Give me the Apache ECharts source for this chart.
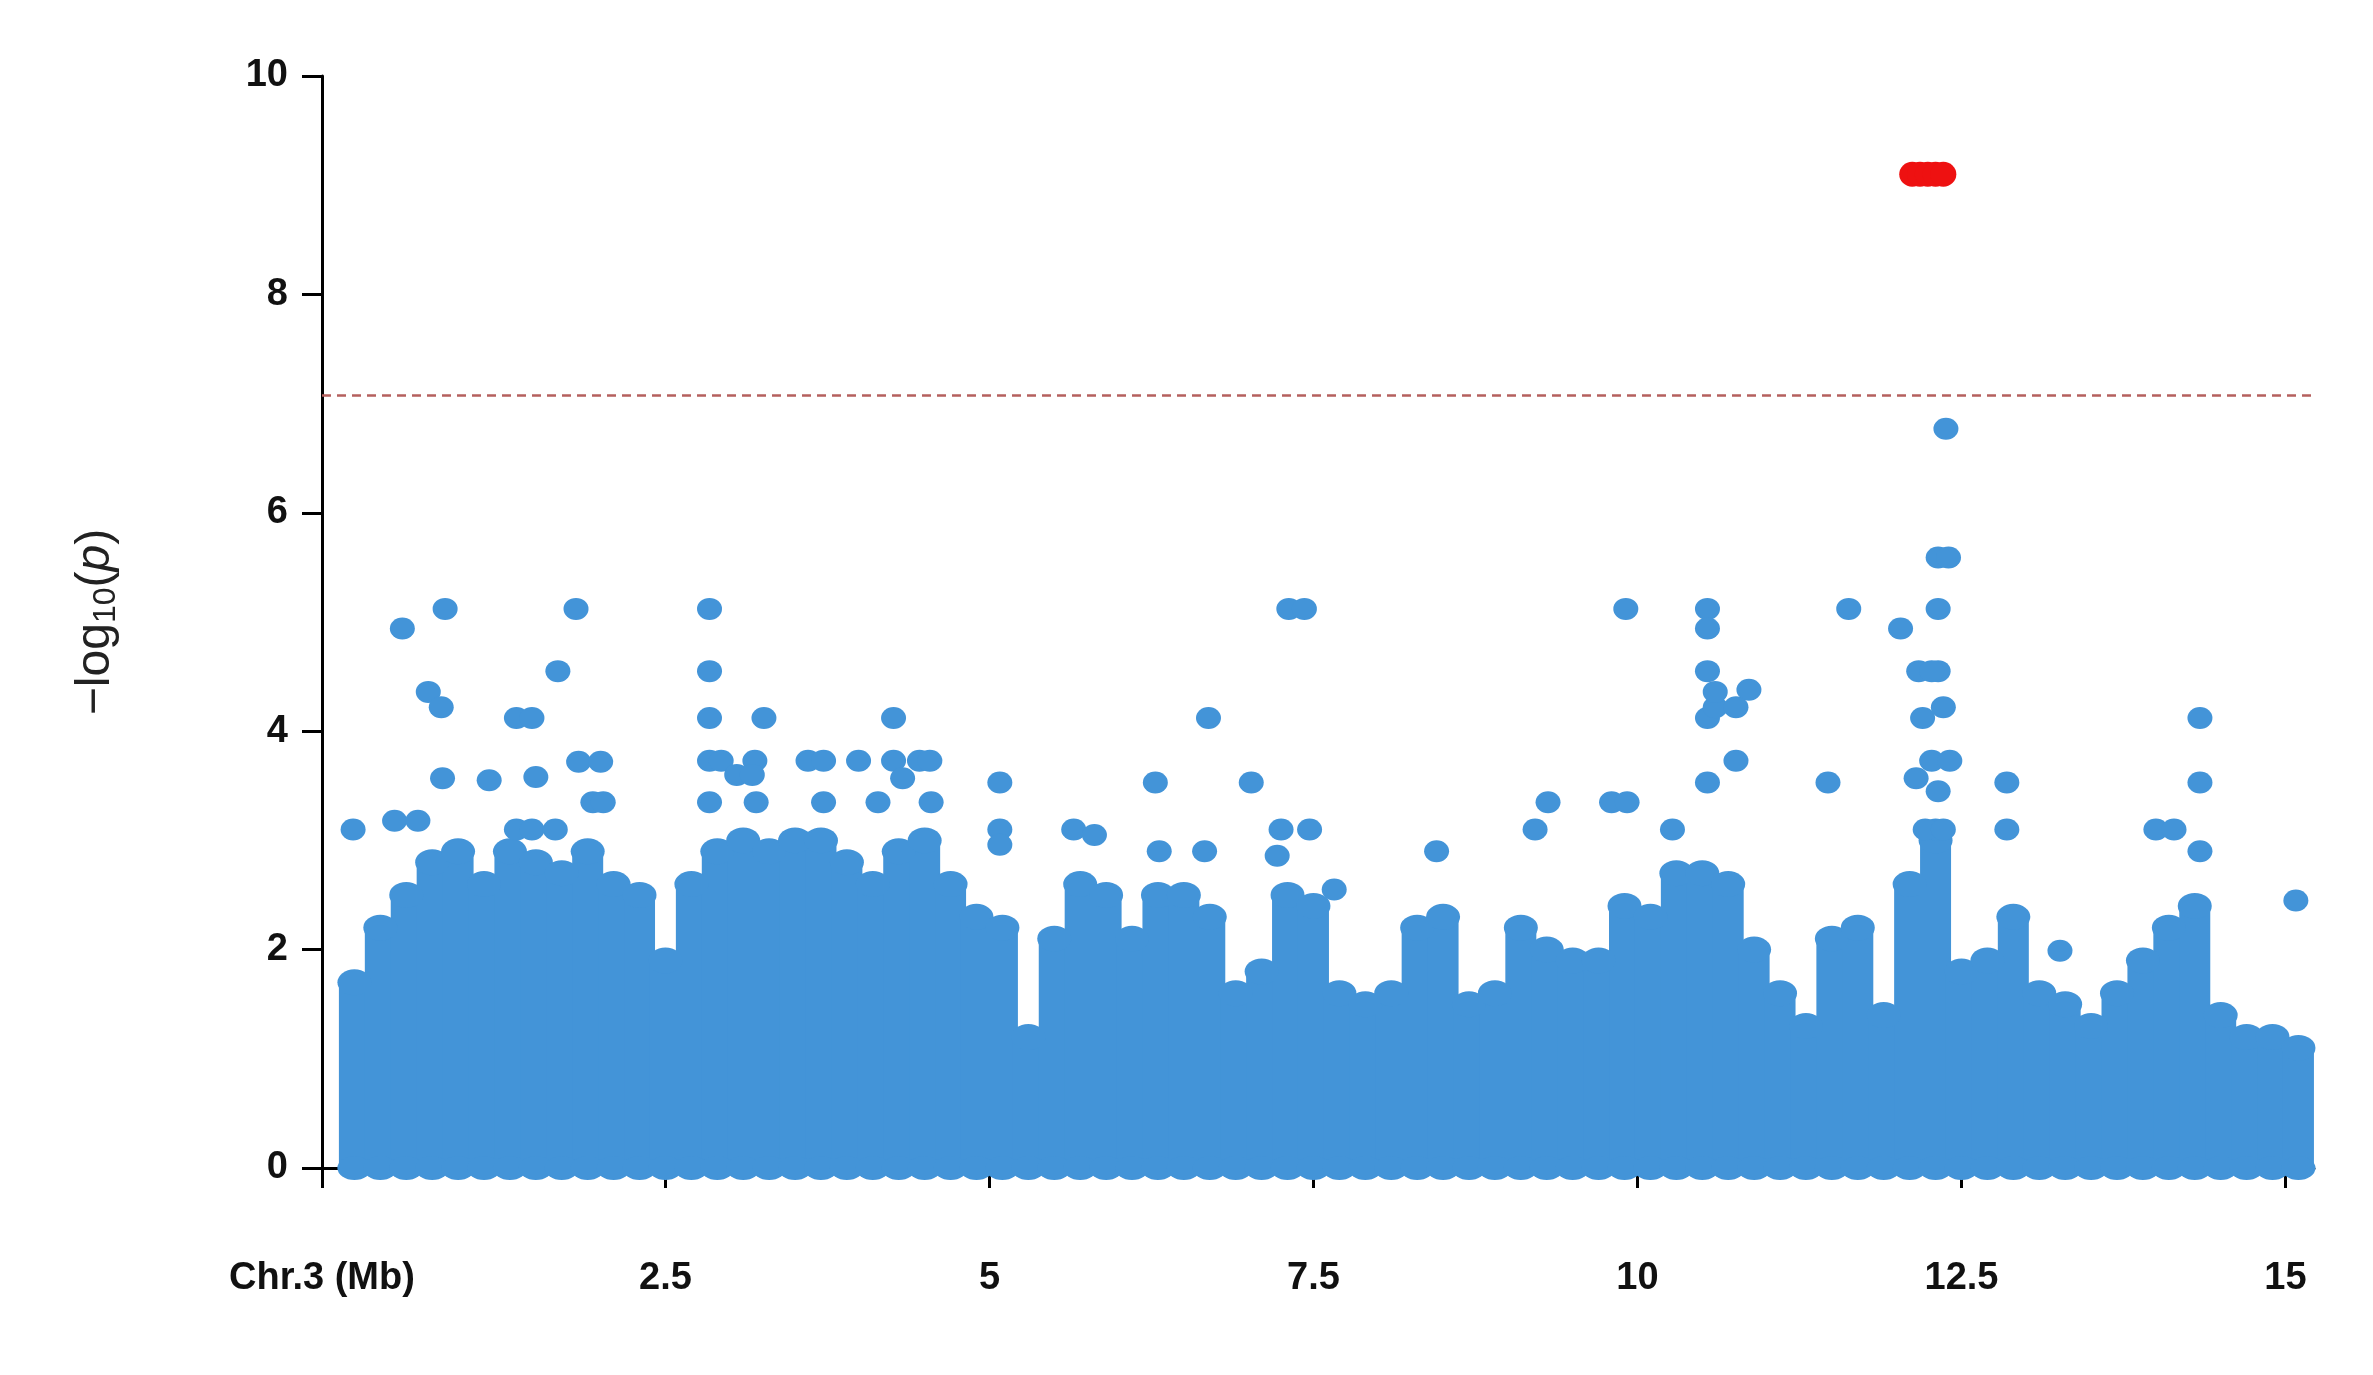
<!DOCTYPE html>
<html>
<head>
<meta charset="utf-8">
<script src="https://cdn.jsdelivr.net/npm/echarts@6/dist/echarts.min.js"></script>
<style>html,body{margin:0;padding:0;background:#fff}#main{width:2373px;height:1375px}</style>
</head>
<body>
<div id="main"></div>
<script>
// dense mass: bin centres (Mb) and top of the packed dots (-log10 p)
var binPos = [0.1,0.3,0.5,0.7,0.9,1.1,1.3,1.5,1.7,1.9,2.1,2.3,2.5,2.7,2.9,3.1,3.3,3.5,3.7,3.9,
	4.1,4.3,4.5,4.7,4.9,5.1,5.3,5.5,5.7,5.9,6.1,6.3,6.5,6.7,6.9,7.1,7.3,7.5,7.7,7.9,
	8.1,8.3,8.5,8.7,8.9,9.1,9.3,9.5,9.7,9.9,10.1,10.3,10.5,10.7,10.9,11.1,11.3,11.5,11.7,11.9,
	12.1,12.3,12.5,12.7,12.9,13.1,13.3,13.5,13.7,13.9,14.1,14.3,14.5,14.7,14.9,15.1];
var binTop = [1.7,2.2,2.5,2.8,2.9,2.6,2.9,2.8,2.7,2.9,2.6,2.5,1.9,2.6,2.9,3.0,2.9,3.0,3.0,2.8,
	2.6,2.9,3.0,2.6,2.3,2.2,1.2,2.1,2.6,2.5,2.1,2.5,2.5,2.3,1.6,1.8,2.5,2.4,1.6,1.5,
	1.6,2.2,2.3,1.5,1.6,2.2,2.0,1.9,1.9,2.4,2.3,2.7,2.7,2.6,2.0,1.6,1.3,2.1,2.2,1.4,
	2.6,3.0,1.8,1.9,2.3,1.6,1.5,1.3,1.6,1.9,2.2,2.4,1.4,1.2,1.2,1.1];

// scattered SNPs above the mass
var snpPos = [0.47,0.8,0.67,0.77,0.78,0.09,0.41,0.59,1.14,1.35,1.47,1.5,1.67,1.81,1.83,2.0,1.94,2.02,1.35,1.47,1.65,
	2.84,2.84,2.84,2.84,2.93,2.84,3.26,3.19,3.2,3.05,3.17,3.6,3.72,3.72,3.99,4.26,4.14,4.26,4.46,4.54,4.33,4.55,
	5.08,5.08,5.08,5.65,5.81,6.28,6.31,6.69,6.66,7.02,7.31,7.43,7.25,7.47,7.22,7.66,8.45,9.21,9.31,9.8,9.92,9.91,10.27,
	10.54,10.54,10.54,10.54,10.6,10.6,10.86,10.76,10.76,10.54,11.63,11.47,12.03,12.15,12.17,12.32,12.27,12.36,12.2,12.32,
	12.27,12.41,12.32,12.3,12.22,12.36,12.32,12.4,12.38,12.85,12.85,13.26,14.0,14.14,14.34,14.34,14.34,15.08];
var snpVal = [4.94,5.12,4.36,4.22,3.57,3.1,3.18,3.18,3.55,4.12,4.12,3.58,4.55,5.12,3.72,3.72,3.35,3.35,3.1,3.1,3.1,
	5.12,4.55,4.12,3.73,3.73,3.35,4.12,3.73,3.35,3.6,3.6,3.73,3.73,3.35,3.73,4.12,3.35,3.73,3.73,3.73,3.57,3.35,
	3.53,3.1,2.96,3.1,3.05,3.53,2.9,4.12,2.9,3.53,5.12,5.12,3.1,3.1,2.86,2.55,2.9,3.1,3.35,3.35,3.35,5.12,3.1,
	5.12,4.94,4.55,4.12,4.22,4.36,4.38,4.22,3.73,3.53,5.12,3.53,4.94,3.57,4.55,4.55,4.55,4.22,4.12,5.12,
	3.73,3.73,3.45,3.1,3.1,3.1,5.59,5.59,6.77,3.53,3.1,1.99,3.1,3.1,4.12,3.53,2.9,2.45];

// significant SNPs
var sigPos = [12.12,12.18,12.24,12.3,12.36];
var sigVal = [9.1,9.1,9.1,9.1,9.1];

var threshold = 7.08;
var xTicks = [-0.15,2.5,5,7.5,10,12.5,15];
var blue = '#4394d8';

function pairs(xs, ys) {
	var out = [];
	for (var i = 0; i < xs.length; i++) out.push([xs[i], ys[i]]);
	return out;
}
var massTop = pairs(binPos, binTop);
var massBase = binPos.map(function(p){ return [p, 0]; });

var chart = echarts.init(document.getElementById('main'));
var option = {
	animation: false,
	grid: { left: 322, right: 59, top: 76, bottom: 207 },
	xAxis: {
		type: 'value', min: -0.15, max: 15.22, offset: 44,
		splitLine: { show: false },
		axisLine: { lineStyle: { color: '#000', width: 3 } },
		axisTick: { customValues: xTicks, length: 20, lineStyle: { color: '#000', width: 3 } },
		axisLabel: {
			customValues: xTicks, margin: 48, color: '#111', fontSize: 38, fontWeight: 'bold',
			fontFamily: 'Liberation Sans',
			formatter: function(v){ return v < 0 ? 'Chr.3 (Mb)' : String(v); }
		}
	},
	yAxis: {
		type: 'value', min: 0, max: 10, interval: 2,
		splitLine: { show: false },
		axisLine: { show: true, onZero: false, lineStyle: { color: '#000', width: 3 } },
		axisTick: { show: true, length: 20, lineStyle: { color: '#000', width: 3 } },
		axisLabel: { margin: 34, color: '#111', fontSize: 38, fontWeight: 'bold', fontFamily: 'Liberation Sans' },
		name: '{a|−log}{s|10}{a|(}{i|p}{a|)}',
		nameLocation: 'middle', nameGap: 200, nameRotate: 90,
		nameTextStyle: {
			rich: {
				a: { fontSize: 48, color: '#222', fontFamily: 'Liberation Sans' },
				s: { fontSize: 32, color: '#222', fontFamily: 'Liberation Sans', padding: [20, 0, 0, 0] },
				i: { fontSize: 48, color: '#222', fontStyle: 'italic', fontFamily: 'Liberation Sans' }
			}
		}
	},
	series: [
		{ type: 'bar', data: massTop, barWidth: 31, itemStyle: { color: blue }, silent: true },
		{ type: 'scatter', data: massTop, symbolSize: [34, 26], itemStyle: { color: blue, opacity: 1 }, silent: true },
		{ type: 'scatter', data: massBase, symbolSize: [34, 24], clip: false, itemStyle: { color: blue, opacity: 1 }, silent: true },
		{
			type: 'scatter', data: pairs(snpPos, snpVal), symbolSize: [25, 22], itemStyle: { color: blue, opacity: 1 },
			markLine: {
				silent: true, symbol: 'none', label: { show: false },
				lineStyle: { color: '#b5605e', type: [9, 6], width: 2.5 },
				data: [{ yAxis: threshold }]
			}
		},
		{ type: 'scatter', data: pairs(sigPos, sigVal), symbolSize: [26, 25], itemStyle: { color: '#ee1111', opacity: 1 } }
	]
};
chart.setOption(option);
</script>
</body>
</html>
